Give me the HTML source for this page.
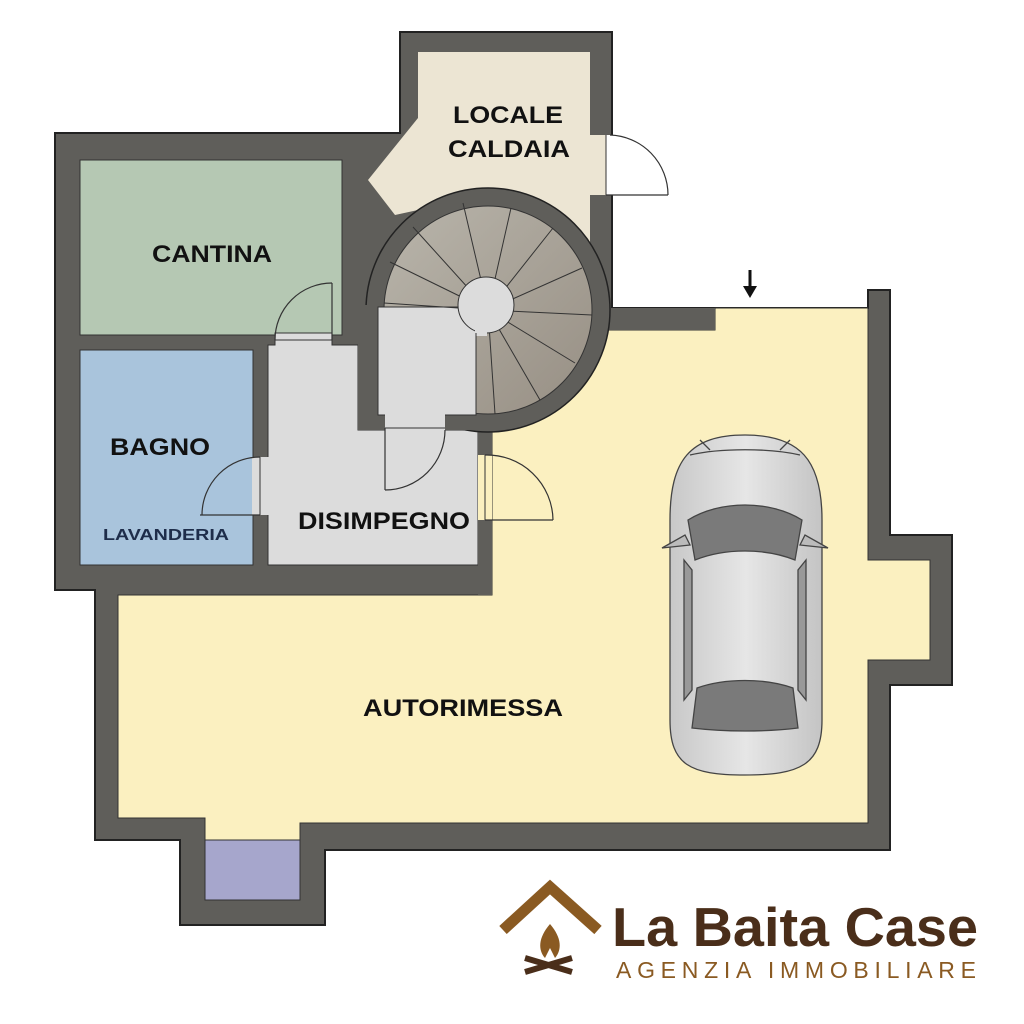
<!DOCTYPE html>
<html><head><meta charset="utf-8"><style>
html,body{margin:0;padding:0;background:#fff;}
svg{display:block;}
text{font-family:"Liberation Sans",sans-serif;font-weight:bold;}
</style></head><body>
<svg width="1024" height="1024" viewBox="0 0 1024 1024">
<defs>
<linearGradient id="st" x1="0" y1="0" x2="1" y2="1">
<stop offset="0" stop-color="#b9b5ab"/><stop offset="1" stop-color="#978f84"/>
</linearGradient>
<linearGradient id="car" x1="0" y1="0" x2="1" y2="0">
<stop offset="0" stop-color="#c8c8c8"/><stop offset="0.5" stop-color="#e6e6e6"/><stop offset="1" stop-color="#c4c4c4"/>
</linearGradient>
</defs>
<polygon points="55,133 400,133 400,32 612,32 612,308 715,308 868,308 868,290 890,290 890,535 952,535 952,685 890,685 890,850 325,850 325,925 180,925 180,840 95,840 95,590 55,590" fill="#5f5e5a" stroke="#222" stroke-width="2"/>
<polygon points="418,52 590,52 590,265 418,265 418,210 395,215 368,180 418,118" fill="#ece5d3"/>
<rect x="590" y="135" width="16" height="60" fill="#ece5d3"/>
<rect x="606" y="135" width="8" height="60" fill="#fff"/>
<line x1="606" y1="195" x2="668" y2="195" stroke="#333" stroke-width="1.2"/>
<line x1="606" y1="135" x2="606" y2="195" stroke="#333" stroke-width="1"/>
<path d="M610,135 A60,60 0 0 1 668,195" fill="none" stroke="#333" stroke-width="1.2"/>
<rect x="80" y="160" width="262" height="175" fill="#b5c8b3" stroke="#333" stroke-width="1"/>
<rect x="80" y="350" width="173" height="215" fill="#a9c4dc" stroke="#333" stroke-width="1"/>
<polygon points="268,345 275,345 275,333 332,333 332,345 358,345 358,430 478,430 478,565 268,565" fill="#dcdcdc" stroke="#333" stroke-width="1"/>
<polygon points="118,595 492,595 492,330 715,330 715,308 868,308 868,560 930,560 930,660 868,660 868,823 300,823 300,840 205,840 205,818 118,818" fill="#fbf0c0" stroke="#333" stroke-width="1"/>
<rect x="205" y="840" width="95" height="60" fill="#a6a6cc" stroke="#333" stroke-width="1"/>
<rect x="560" y="308" width="155" height="22" fill="#5f5e5a"/>
<rect x="478" y="420" width="14" height="175" fill="#5f5e5a"/>
<rect x="478" y="455" width="14" height="65" fill="#fbf0c0"/>
<circle cx="488" cy="310" r="122" fill="#5f5e5a" stroke="#222" stroke-width="1.5"/>
<circle cx="488" cy="310" r="104" fill="url(#st)" stroke="#333" stroke-width="1"/>
<rect x="358" y="305" width="20" height="125" fill="#5f5e5a"/>
<rect x="358" y="415" width="132" height="15" fill="#5f5e5a"/>
<rect x="378" y="307" width="98" height="108" fill="#dcdcdc" stroke="#333" stroke-width="1"/>
<g stroke="#333" stroke-width="1">
<line x1="488" y1="310" x2="384" y2="303"/>
<line x1="488" y1="310" x2="390" y2="262"/>
<line x1="488" y1="310" x2="413" y2="227"/>
<line x1="488" y1="310" x2="463" y2="203"/>
<line x1="488" y1="310" x2="511" y2="208"/>
<line x1="488" y1="310" x2="553" y2="228"/>
<line x1="488" y1="310" x2="582" y2="268"/>
<line x1="488" y1="310" x2="592" y2="315"/>
<line x1="488" y1="310" x2="575" y2="363"/>
<line x1="488" y1="310" x2="540" y2="400"/>
<line x1="488" y1="310" x2="495" y2="414"/>
</g>
<circle cx="486" cy="305" r="28" fill="#dcdcdc" stroke="#333" stroke-width="1"/>
<rect x="475" y="306" width="12" height="30" fill="#dcdcdc"/>
<line x1="476" y1="333" x2="476" y2="415" stroke="#333" stroke-width="1"/>
<rect x="385" y="414" width="60" height="18" fill="#dcdcdc"/>
<line x1="385" y1="428" x2="385" y2="490" stroke="#333" stroke-width="1.2"/>
<path d="M385,490 A60,60 0 0 0 445,430" fill="none" stroke="#333" stroke-width="1.2"/>
<line x1="385" y1="428" x2="445" y2="428" stroke="#333" stroke-width="1"/>
<line x1="275" y1="340" x2="332" y2="340" stroke="#333" stroke-width="1"/>
<line x1="332" y1="340" x2="332" y2="283" stroke="#333" stroke-width="1.2"/>
<path d="M332,283 A57,57 0 0 0 275,340" fill="none" stroke="#333" stroke-width="1.2"/>
<rect x="252" y="457" width="17" height="58" fill="#dcdcdc"/>
<line x1="260" y1="457" x2="260" y2="515" stroke="#333" stroke-width="1"/>
<line x1="200" y1="515" x2="260" y2="515" stroke="#333" stroke-width="1.2"/>
<path d="M260,457 A58,58 0 0 0 202,515" fill="none" stroke="#333" stroke-width="1.2"/>
<line x1="485" y1="455" x2="485" y2="520" stroke="#333" stroke-width="1"/>
<line x1="485" y1="520" x2="553" y2="520" stroke="#333" stroke-width="1.2"/>
<path d="M485,455 A66,66 0 0 1 553,520" fill="none" stroke="#333" stroke-width="1.2"/>
<line x1="750" y1="270" x2="750" y2="288" stroke="#111" stroke-width="3"/>
<polygon points="743,286 757,286 750,298" fill="#111"/>
<g stroke="#444" stroke-width="1.3">
<path d="M745,435 C800,435 822,460 822,520 L822,720 C822,765 800,775 745,775 C690,775 670,765 670,720 L670,520 C670,460 690,435 745,435 Z" fill="url(#car)"/>
<path d="M690,545 L662,548 L685,535 Z M800,545 L828,548 L805,535 Z" fill="#bbb"/>
<path d="M688,520 C720,500 770,500 802,520 L795,560 C765,548 725,548 695,560 Z" fill="#7a7a7a"/>
<path d="M697,688 C725,678 765,678 793,688 L798,728 C765,732 725,732 692,728 Z" fill="#7a7a7a"/>
<path d="M684,560 L692,570 L692,690 L684,700 Z M806,560 L798,570 L798,690 L806,700 Z" fill="#999"/>
<path d="M700,440 L710,450 M790,440 L780,450 M690,455 C720,448 770,448 800,455" fill="none"/>
</g>
<g fill="#111" font-size="24" lengthAdjust="spacingAndGlyphs">
<text x="453" y="123" textLength="110" lengthAdjust="spacingAndGlyphs">LOCALE</text>
<text x="448" y="157" textLength="122" lengthAdjust="spacingAndGlyphs">CALDAIA</text>
<text x="152" y="262" textLength="120" lengthAdjust="spacingAndGlyphs">CANTINA</text>
<text x="110" y="455" textLength="100" lengthAdjust="spacingAndGlyphs">BAGNO</text>
<text x="103" y="540" font-size="16" fill="#1e2d4a" textLength="126" lengthAdjust="spacingAndGlyphs">LAVANDERIA</text>
<text x="298" y="529" textLength="172" lengthAdjust="spacingAndGlyphs">DISIMPEGNO</text>
<text x="363" y="716" textLength="200" lengthAdjust="spacingAndGlyphs">AUTORIMESSA</text>
</g>
<polyline points="503,930 550,887 598,930" fill="none" stroke="#8a5a22" stroke-width="11"/>
<path d="M550,924 C538,938 538,950 545,958 L550,948 L555,958 C562,950 562,938 550,924 Z" fill="#8a5a22"/>
<line x1="525" y1="958" x2="572" y2="972" stroke="#4a2e1a" stroke-width="6"/>
<line x1="525" y1="972" x2="572" y2="958" stroke="#4a2e1a" stroke-width="6"/>
<text x="612" y="946" font-size="55" fill="#4a2e1a" textLength="366" lengthAdjust="spacingAndGlyphs">La Baita Case</text>
<text x="616" y="978" font-size="23" fill="#8a5a22" textLength="360" lengthAdjust="spacing" style="font-weight:normal">AGENZIA IMMOBILIARE</text>
</svg>
</body></html>
